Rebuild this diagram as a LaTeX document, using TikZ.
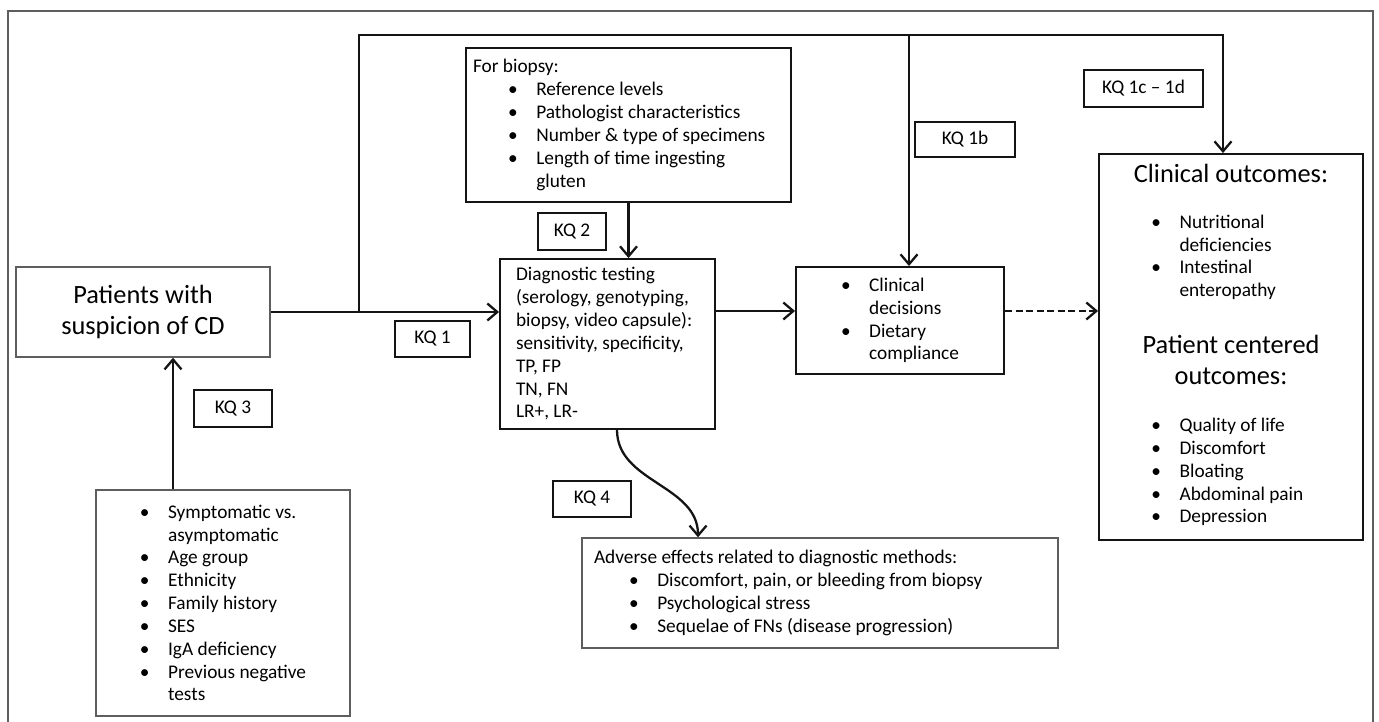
\documentclass[tikz,border=0pt]{standalone}
\usepackage{fontspec}
\setmainfont{Carlito}
\usepackage{tikz}
\usetikzlibrary{arrows.meta}
\definecolor{kqline}{HTML}{141414}
\definecolor{kqgrey}{HTML}{5E5E5E}
\newcommand{\kqsmall}{\fontsize{11}{13}\selectfont}
\newcommand{\kqlarge}{\fontsize{15}{17.5}\selectfont}
\newcommand{\kqbul}{\makebox[16pt][l]{\textbullet}}
\newcommand{\kqhang}{\hspace*{16pt}}
\newcommand{\kqpad}{\hspace*{20pt}}
\tikzset{
  box/.style={draw=kqline, line width=1.1pt, align=left, font=\kqsmall,
              inner sep=0pt},
  greybox/.style={box, draw=kqgrey, line width=0.8pt},
  kqbox/.style={draw=kqline, line width=1.1pt, font=\kqsmall, inner sep=0pt},
  flow/.style={-{Straight Barb[length=2mm, width=3.4mm]}, line width=1.3pt,
               draw=kqline},
  dflow/.style={flow, dash pattern=on 4pt off 2pt},
  outer/.style={draw=kqgrey, line width=0.8pt},
}

\begin{document}
\begin{tikzpicture}[x=0.02cm, y=-0.02cm]
  \useasboundingbox (0,0) rectangle (1379,722);
  % frame
  \draw[outer] (8,740) -- (8,11) -- (1373,11) -- (1373,740);
  % population
  \node[greybox, align=center, font=\kqlarge, minimum width=5.08cm,
        minimum height=1.8cm] (patients) at (143,312)
        {Patients with\\suspicion of CD};
  \node[greybox, minimum width=5.08cm, minimum height=4.52cm] (factors)
        at (223,603)
        {\kqbul Symptomatic vs.\\ \kqhang asymptomatic\\ \kqbul Age group\\
         \kqbul Ethnicity\\ \kqbul Family history\\ \kqbul SES\\
         \kqbul IgA deficiency\\ \kqbul Previous negative\\ \kqhang tests};
  % testing
  \node[box, align=flush left, text width=6.22cm, inner xsep=0.14cm,
        minimum height=3.08cm] (biopsy) at (628.5,125)
        {For biopsy:\\ \kqpad\kqbul Reference levels\\
         \kqpad\kqbul Pathologist characteristics\\
         \kqpad\kqbul Number \& type of specimens\\
         \kqpad\kqbul Length of time ingesting\\ \kqpad\kqhang gluten};
  \node[box, align=flush left, text width=3.66cm, inner xsep=0.32cm,
        minimum height=3.4cm] (diag) at (607.5,344)
        {Diagnostic testing\\ (serology, genotyping,\\
         biopsy, video capsule):\\ sensitivity, specificity,\\
         TP, FP\\ TN, FN\\ LR+, LR-};
  \node[greybox, align=flush left, text width=9.04cm, inner xsep=0.24cm,
        minimum height=2.2cm] (adverse) at (820,593)
        {Adverse effects related to diagnostic methods:\\
         \kqpad\kqbul Discomfort, pain, or bleeding from biopsy\\
         \kqpad\kqbul Psychological stress\\
         \kqpad\kqbul Sequelae of FNs (disease progression)};
  % decisions and outcomes
  \node[box, minimum width=4.16cm, minimum height=2.14cm] (decide)
        at (900,320.5)
        {\kqbul Clinical\\ \kqhang decisions\\ \kqbul Dietary\\
         \kqhang compliance};
  \node[box, align=center, minimum width=5.28cm, minimum height=7.72cm]
        (outcomes) at (1231,347)
        {\begin{tabular}{@{}l@{}}
         \multicolumn{1}{@{}c@{}}{\kqlarge Clinical outcomes:}\\[13pt]
         \hspace*{10pt}\kqbul Nutritional\\
         \hspace*{10pt}\kqhang deficiencies\\
         \hspace*{10pt}\kqbul Intestinal\\
         \hspace*{10pt}\kqhang enteropathy\\[18pt]
         \multicolumn{1}{@{}c@{}}{\kqlarge Patient centered}\\[4pt]
         \multicolumn{1}{@{}c@{}}{\kqlarge outcomes:}\\[14pt]
         \hspace*{10pt}\kqbul Quality of life\\
         \hspace*{10pt}\kqbul Discomfort\\
         \hspace*{10pt}\kqbul Bloating\\
         \hspace*{10pt}\kqbul Abdominal pain\\
         \hspace*{10pt}\kqbul Depression
         \end{tabular}};
  % key questions
  \node[kqbox, minimum width=1.5cm, minimum height=0.72cm] (kq1)
        at (432.5,339) {KQ 1};
  \node[kqbox, minimum width=1.36cm, minimum height=0.74cm] (kq2)
        at (572,231.5) {KQ 2};
  \node[kqbox, minimum width=1.56cm, minimum height=0.74cm] (kq3)
        at (233,408.5) {KQ 3};
  \node[kqbox, minimum width=1.56cm, minimum height=0.72cm] (kq4)
        at (592,499) {KQ 4};
  \node[kqbox, minimum width=2.0cm, minimum height=0.7cm] (kq1b)
        at (965,139.5) {KQ 1b};
  \node[kqbox, minimum width=2.38cm, minimum height=0.74cm] (kq1c)
        at (1143.5,88.5) {KQ 1c -- 1d};
  % connectors
  \coordinate (split) at (359,312);
  \coordinate (ridge) at (359,35);
  \coordinate (drop1) at (909,35);
  \coordinate (drop2) at (1223,35);
  \coordinate (riser) at ([xshift=-1cm]factors.north);
  \coordinate (mid) at ([yshift=0.19cm]decide.west);
  \draw[flow] (patients.east) -- (patients.east -| diag.west);
  \draw[flow] (split) -- (ridge) -- (drop2) -- (drop2 |- outcomes.north);
  \draw[flow] (drop1) -- (drop1 |- decide.north);
  \draw[flow] (biopsy.south) -- (biopsy.south |- diag.north);
  \draw[flow] (riser) -- (riser |- patients.south);
  \draw[flow] (mid -| diag.east) -- (mid);
  \draw[dflow] ([yshift=0.19cm]decide.east) -- (mid -| outcomes.west);
  \draw[flow] ([xshift=0.19cm]diag.south) to[out=-90, in=90]
        ([xshift=-2.44cm]adverse.north);
\end{tikzpicture}
\end{document}
